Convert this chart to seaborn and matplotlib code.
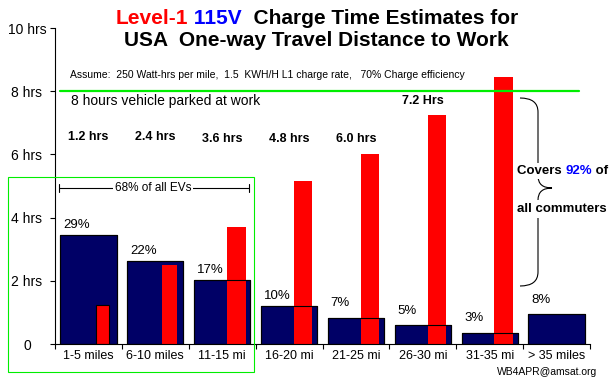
import numpy as np
import pandas as pd
import matplotlib
matplotlib.use('Agg')
import matplotlib.pyplot as plt
from matplotlib.path import Path
from matplotlib.patches import PathPatch, Rectangle
from matplotlib.lines import Line2D
from matplotlib.transforms import Affine2D
import seaborn as sns

# data
categories = ['1-5 miles', '6-10 miles', '11-15 mi', '16-20 mi',
              '21-25 mi', '26-30 mi', '31-35 mi', '> 35 miles']
commuter_pct = [29, 22, 17, 10, 7, 5, 3, 8]
charge_hrs = [1.25, 2.5, 3.7, 5.15, 6.0, 7.25, 8.45]
hrs_labels = ['1.2 hrs', '2.4 hrs', '3.6 hrs', '4.8 hrs', '6.0 hrs', '7.2 Hrs']
hrs_ticks = [0, 2, 4, 6, 8, 10]
hrs_tick_labels = ['0', '2 hrs', '4 hrs', '6 hrs', '8 hrs', '10 hrs']
parked_hrs = 8

# styling
NAVY = '#000066'
RED = '#FF0000'
BLUE = '#0000FF'
GREEN = '#00EE00'
W, H = 614, 380
red_offset = 0.21
red_widths = [0.19, 0.22, 0.28, 0.28, 0.28, 0.27, 0.28]
red_edges = ['black'] + ['none'] * 6
hrs_label_y = [6.55, 6.55, 6.5, 6.5, 6.5, 7.7]
pct_pad = [3, 3, 3, 3, 6, 6, 6, 6]

sns.set_theme(style='white', rc={'text.color': 'black', 'xtick.color': 'black',
                                 'ytick.color': 'black', 'axes.edgecolor': 'black'})
plt.rcParams['font.family'] = ['Liberation Sans', 'DejaVu Sans']

fig = plt.figure(figsize=(W / 100, H / 100), dpi=100)
px = Affine2D().scale(1 / W, -1 / H).translate(0, 1) + fig.transFigure
rect = [55 / W, 1 - 344 / H, 535 / W, 316 / H]

# bottom layer: share of commuters (navy bars)
ax_pct = fig.add_axes(rect)
df = pd.DataFrame({'dist': categories, 'pct': commuter_pct})
sns.barplot(data=df, x='dist', y='pct', color=NAVY, saturation=1, width=0.84,
            edgecolor='black', linewidth=0.8, ax=ax_pct)
ax_pct.set_xlim(-0.5, len(categories) - 0.5)
ax_pct.set_ylim(0, 84)
ax_pct.set_xlabel('')
ax_pct.set_ylabel('')
ax_pct.set_yticks([])
ax_pct.set_xticks(range(len(categories)))
ax_pct.set_xticklabels(categories, fontsize=9)
ax_pct.set_xticks(np.arange(-0.5, len(categories)), minor=True)
ax_pct.tick_params(axis='x', which='major', length=0, pad=4)
ax_pct.tick_params(axis='x', which='minor', bottom=True, length=3.6, width=0.8, direction='out')
for side in ['top', 'right', 'left']:
    ax_pct.spines[side].set_visible(False)
ax_pct.spines['bottom'].set_linewidth(0.8)

# middle layer: charge time (red bars)
ax_hrs = ax_pct.twinx()
ax_hrs.yaxis.tick_left()
x_red = np.arange(len(charge_hrs)) + red_offset
ax_hrs.bar(x_red, charge_hrs, width=red_widths, color=RED, edgecolor=red_edges, linewidth=0.8)
ax_hrs.set_ylim(0, 10)
ax_hrs.set_yticks(hrs_ticks)
ax_hrs.set_yticklabels(hrs_tick_labels, fontsize=10)
ax_hrs.tick_params(axis='y', left=True, length=3.6, width=0.8, direction='out', pad=16.6)
for t in ax_hrs.get_yticklabels():
    t.set_horizontalalignment('center')
for side in ['top', 'right', 'bottom']:
    ax_hrs.spines[side].set_visible(False)
ax_hrs.spines['left'].set_linewidth(0.8)
ax_hrs.axhline(parked_hrs, xmin=0.009, xmax=0.979, color=GREEN, lw=1.6, clip_on=False, zorder=5)
for i, (lab, y) in enumerate(zip(hrs_labels, hrs_label_y)):
    ax_hrs.text(i, y, lab, ha='center', va='center', fontsize=9, fontweight='bold')

# top layer: navy bar outlines over the red bars, plus percent labels
ax_top = ax_pct.twinx()
ax_top.set_ylim(0, 84)
ax_top.set_yticks([])
ax_top.bar(range(len(commuter_pct)), commuter_pct, width=0.84, facecolor='none',
           edgecolor='black', linewidth=0.8)
for i, p in enumerate(commuter_pct):
    ax_top.annotate(f'{p}%', xy=(i - 0.42, p), xytext=(2, pct_pad[i]), textcoords='offset points',
                    ha='left', va='bottom', fontsize=9.5)
for side in ax_top.spines:
    ax_top.spines[side].set_visible(False)


def text_run(parts, x, y, align='center', backing=False, **kw):
    texts = [fig.text(0, y, s, color=c, transform=px, ha='left', va='center', **kw)
             for s, c in parts]
    fig.canvas.draw()
    r = fig.canvas.get_renderer()
    exts = [t.get_window_extent(r) for t in texts]
    widths = [e.width for e in exts]
    x0 = x - sum(widths) / 2 if align == 'center' else x
    start = x0
    for t, w in zip(texts, widths):
        t.set_x(x0)
        x0 += w
    if backing:
        h = max(e.height for e in exts)
        fig.add_artist(Rectangle((start - 2, y - h / 2 - 2), x0 - start + 4, h + 4,
                                 transform=px, facecolor='white', edgecolor='none', zorder=2))
    return texts


text_run([('Level-1', RED), (' 115V', BLUE), ('  Charge Time Estimates for', 'black')],
         317, 19, fontsize=15, fontweight='bold')
fig.text(316, 41, 'USA  One-way Travel Distance to Work', transform=px, ha='center',
         va='center', fontsize=15, fontweight='bold')
fig.text(70, 75, 'Assume:  250 Watt-hrs per mile,  1.5  KWH/H L1 charge rate,   70% Charge efficiency',
         transform=px, ha='left', va='center', fontsize=7.5)
fig.text(71, 101, '8 hours vehicle parked at work', transform=px, ha='left', va='center', fontsize=10)

# 68% bracket and green box
fig.add_artist(Line2D([59, 249], [188, 188], transform=px, color='black', lw=0.8))
fig.add_artist(Line2D([59, 59], [184, 192], transform=px, color='black', lw=0.8))
fig.add_artist(Line2D([249, 249], [184, 192], transform=px, color='black', lw=0.8))
fig.text(153, 188, '68% of all EVs', transform=px, ha='center', va='center', fontsize=8.5,
         bbox=dict(facecolor='white', edgecolor='none', pad=1))
fig.add_artist(Rectangle((7.5, 176.5), 246, 195, transform=px, fill=False,
                         edgecolor=GREEN, lw=0.8))

# curly brace on the right
verts = [(520, 98), (538, 98), (538, 112), (538, 176), (538, 188), (552, 188),
         (538, 188), (538, 200), (538, 272), (538, 286), (520, 286)]
codes = [Path.MOVETO, Path.CURVE3, Path.CURVE3, Path.LINETO, Path.CURVE3, Path.CURVE3,
         Path.CURVE3, Path.CURVE3, Path.LINETO, Path.CURVE3, Path.CURVE3]
fig.add_artist(PathPatch(Path(verts, codes), transform=px, fill=False, edgecolor='black',
                         lw=0.8, zorder=1))
text_run([('Covers ', 'black'), ('92%', BLUE), (' of', 'black')], 517, 171, align='left',
         backing=True, fontsize=9.5, fontweight='bold')
fig.text(517, 209, 'all commuters', transform=px, ha='left', va='center', fontsize=9.5,
         fontweight='bold', bbox=dict(facecolor='white', edgecolor='none', pad=2))
fig.text(497, 372, 'WB4APR@amsat.org', transform=px, ha='left', va='center', fontsize=7.5)

fig.savefig('out.png', dpi=100)
